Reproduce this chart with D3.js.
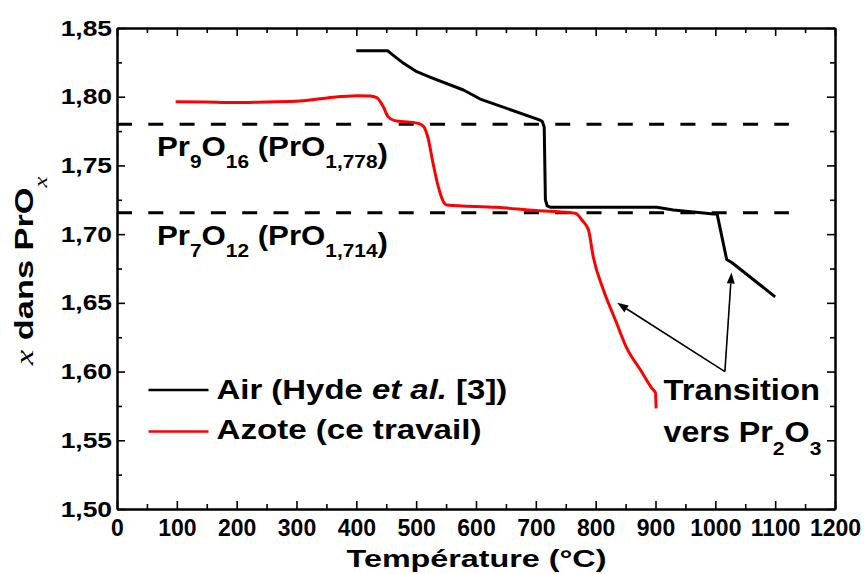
<!DOCTYPE html>
<html>
<head>
<meta charset="utf-8">
<script src="https://cdn.jsdelivr.net/npm/d3@7"></script>
<style>
html,body{margin:0;padding:0;background:#fff;}
svg{display:block;}
</style>
</head>
<body>
<svg id="chart" width="865" height="574"></svg>
<script>
// ---------- data ----------
const airTemp = [400, 452, 465, 479, 501, 523, 579, 607, 707, 711, 714, 716, 719, 725, 902, 930, 997, 1003, 1019, 1028, 1100];
const airX    = [1.8335, 1.8335, 1.8290, 1.8243, 1.8182, 1.8143, 1.8049, 1.7983, 1.7830, 1.7818, 1.7780, 1.7250, 1.7205, 1.7195, 1.7195, 1.7175, 1.7146, 1.7146, 1.6815, 1.6792, 1.6544];

const azoteTemp = [98, 150, 195, 250, 306, 340, 362, 402, 423, 434, 445, 453, 464, 490, 503, 512, 520, 528, 537, 545, 551, 635, 700, 757, 767, 777, 788, 796, 813, 833, 852, 875, 894, 900, 901];
const azoteX    = [1.7964, 1.7961, 1.7957, 1.7962, 1.7969, 1.7985, 1.7996, 1.8007, 1.8005, 1.7993, 1.7927, 1.7855, 1.7826, 1.7814, 1.7806, 1.7785, 1.7697, 1.7520, 1.7345, 1.7240, 1.7212, 1.7195, 1.7172, 1.7157, 1.7150, 1.7103, 1.7030, 1.6834, 1.6593, 1.6375, 1.6170, 1.6011, 1.5878, 1.5845, 1.5732];

const phaseLevels = [1.780, 1.7155];   // Pr9O16, Pr7O12 dashed lines (as drawn)
const phaseEnd = 1123;                 // dashed lines end temperature

const xMajorTicks = d3.range(0, 1201, 100);
const xMinorTicks = d3.range(50, 1200, 100);
const yMajorTicks = [1.50, 1.55, 1.60, 1.65, 1.70, 1.75, 1.80, 1.85];
const yMinorTicks = [1.525, 1.575, 1.625, 1.675, 1.725, 1.775, 1.825];

const seriesNames = ["Air", "Azote"];
// annotation arrows (data coords): apex -> tips
const arrowApex = [1016, 1.600];
const arrowTips = [[836, 1.650], [1027, 1.672]];

// ---------- layout ----------
const FONT = "'Liberation Sans', Arial, sans-serif";
const SERIF = "'Liberation Serif', 'Times New Roman', serif";
const X0 = 117, X1 = 835, Y0 = 28, Y1 = 509;
const svg = d3.select("#chart");
const x = d3.scaleLinear().domain([0, 1200]).range([X0, X1]);
const y = d3.scaleLinear().domain([1.50, 1.85]).range([Y1, Y0]);
const fmt = v => d3.format(".2f")(v).replace(".", ",");

function styleAxis(g) {
  g.selectAll("path.domain").attr("stroke", "#000").attr("stroke-width", 2);
  g.selectAll(".tick line").attr("stroke", "#000").attr("stroke-width", 1.6);
}

// minor ticks (all four sides)
svg.append("g").attr("transform", `translate(0,${Y1})`)
  .call(d3.axisBottom(x).tickValues(xMinorTicks).tickSizeInner(-5).tickSizeOuter(0).tickFormat(""))
  .call(styleAxis);
svg.append("g").attr("transform", `translate(0,${Y0})`)
  .call(d3.axisTop(x).tickValues(xMinorTicks).tickSizeInner(-5).tickSizeOuter(0).tickFormat(""))
  .call(styleAxis);
svg.append("g").attr("transform", `translate(${X0},0)`)
  .call(d3.axisLeft(y).tickValues(yMinorTicks).tickSizeInner(-5).tickSizeOuter(0).tickFormat(""))
  .call(styleAxis);
svg.append("g").attr("transform", `translate(${X1},0)`)
  .call(d3.axisRight(y).tickValues(yMinorTicks).tickSizeInner(-5).tickSizeOuter(0).tickFormat(""))
  .call(styleAxis);

// major ticks
const gxb = svg.append("g").attr("transform", `translate(0,${Y1})`)
  .call(d3.axisBottom(x).tickValues(xMajorTicks).tickSizeInner(-8).tickSizeOuter(0).tickPadding(11).tickFormat(d3.format("d")))
  .call(styleAxis);
gxb.selectAll("text").attr("font-family", FONT).attr("font-weight", "bold").attr("font-size", 23).attr("fill", "#000");

svg.append("g").attr("transform", `translate(0,${Y0})`)
  .call(d3.axisTop(x).tickValues(xMajorTicks).tickSizeInner(-8).tickSizeOuter(0).tickFormat(""))
  .call(styleAxis);

const gyl = svg.append("g").attr("transform", `translate(${X0},0)`)
  .call(d3.axisLeft(y).tickValues(yMajorTicks).tickSizeInner(-8).tickSizeOuter(0).tickPadding(5).tickFormat(fmt))
  .call(styleAxis);
const ySx = 1.2;
gyl.selectAll("text").attr("font-family", FONT).attr("font-weight", "bold").attr("font-size", 22).attr("fill", "#000")
  .attr("x", -5 / ySx).attr("transform", `scale(${ySx},1)`);

svg.append("g").attr("transform", `translate(${X1},0)`)
  .call(d3.axisRight(y).tickValues(yMajorTicks).tickSizeInner(-8).tickSizeOuter(0).tickFormat(""))
  .call(styleAxis);

// ---------- text helper (horizontally stretched like the reference) ----------
function scaledText(parent, o) {
  const t = parent.append("text")
    .attr("font-family", FONT).attr("font-weight", "bold").attr("font-size", o.size)
    .attr("text-anchor", o.anchor || "start").attr("fill", "#000");
  o.parts.forEach(p => {
    const ts = t.append("tspan").text(p.t);
    if (p.size) ts.attr("font-size", p.size);
    if (p.dy) ts.attr("dy", p.dy);
    if (p.italic) ts.attr("font-style", "italic");
    if (p.family) ts.attr("font-family", p.family).attr("font-weight", p.weight || "normal");
  });
  const w = t.node().getBBox().width;
  const sx = o.width ? o.width / w : 1;
  t.attr("transform", `translate(${o.x},${o.y}) rotate(${o.rotate || 0}) scale(${sx},1)`);
  return t;
}

// ---------- dashed phase lines ----------
svg.append("g").selectAll("line").data(phaseLevels).join("line")
  .attr("x1", x(0)).attr("x2", x(phaseEnd))
  .attr("y1", d => y(d)).attr("y2", d => y(d))
  .attr("stroke", "#000").attr("stroke-width", 3)
  .attr("stroke-dasharray", "15,16.3");

// ---------- curves ----------
const airData = airTemp.map((t, i) => [t, airX[i]]);
const azoteData = azoteTemp.map((t, i) => [t, azoteX[i]]);
const lineLin = d3.line().x(d => x(d[0])).y(d => y(d[1])).curve(d3.curveLinear);
const lineSmooth = d3.line().x(d => x(d[0])).y(d => y(d[1])).curve(d3.curveMonotoneX);

svg.append("path").datum(airData).attr("d", lineLin)
  .attr("fill", "none").attr("stroke", "#000").attr("stroke-width", 3).attr("stroke-linejoin", "round");
svg.append("path").datum(azoteData).attr("d", lineSmooth)
  .attr("fill", "none").attr("stroke", "#ff0000").attr("stroke-width", 3).attr("stroke-linejoin", "round");

// ---------- phase labels ----------
scaledText(svg, { x: 157, y: 156, size: 27, width: 231, parts: [
  { t: "Pr" }, { t: "9", size: 18, dy: 12 }, { t: "O", dy: -12 }, { t: "16", size: 18, dy: 12 },
  { t: " (PrO", dy: -12 }, { t: "1,778", size: 18, dy: 12 }, { t: ")", dy: -5 } ] });
scaledText(svg, { x: 157, y: 245, size: 27, width: 231, parts: [
  { t: "Pr" }, { t: "7", size: 18, dy: 12 }, { t: "O", dy: -12 }, { t: "12", size: 18, dy: 12 },
  { t: " (PrO", dy: -12 }, { t: "1,714", size: 18, dy: 12 }, { t: ")", dy: -5 } ] });

// ---------- legend ----------
const legend = svg.append("g");
const legendColors = ["#000", "#ff0000"];
const legendY = [390, 431.5];
legend.selectAll("line").data(seriesNames).join("line")
  .attr("x1", 148.5).attr("x2", 208.5)
  .attr("y1", (d, i) => legendY[i]).attr("y2", (d, i) => legendY[i])
  .attr("stroke", (d, i) => legendColors[i]).attr("stroke-width", 2.5);
scaledText(legend, { x: 216.5, y: 398.5, size: 28, width: 291, parts: [
  { t: "Air (Hyde " }, { t: "et al.", italic: true }, { t: " [3])" } ] });
scaledText(legend, { x: 216.5, y: 438.5, size: 28, width: 265, parts: [
  { t: "Azote (ce travail)" } ] });

// ---------- annotation ----------
const ann = svg.append("g");
function arrow(from, to) {
  const x1 = x(from[0]), y1 = y(from[1]), x2 = x(to[0]), y2 = y(to[1]);
  const a = Math.atan2(y2 - y1, x2 - x1);
  const L = 11, Wd = 4;
  const bx = x2 - L * Math.cos(a), by = y2 - L * Math.sin(a);
  ann.append("line").attr("x1", x1).attr("y1", y1).attr("x2", bx).attr("y2", by)
    .attr("stroke", "#000").attr("stroke-width", 1.6);
  ann.append("path")
    .attr("d", `M${x2},${y2} L${bx - Wd * Math.sin(a)},${by + Wd * Math.cos(a)} L${bx + Wd * Math.sin(a)},${by - Wd * Math.cos(a)} Z`)
    .attr("fill", "#000");
}
arrowTips.forEach(tip => arrow(arrowApex, tip));

scaledText(svg, { x: 663.5, y: 400, size: 29, width: 156.5, parts: [{ t: "Transition" }] });
scaledText(svg, { x: 663.5, y: 441.5, size: 29, width: 158, parts: [
  { t: "vers Pr" }, { t: "2", size: 19, dy: 13 }, { t: "O", dy: -13 }, { t: "3", size: 19, dy: 13 } ] });

// ---------- axis titles ----------
scaledText(svg, { x: 476.5, y: 566.5, size: 23, width: 260, anchor: "middle", parts: [{ t: "Température (°C)" }] });
scaledText(svg, { x: 33, y: 365, size: 25, width: 190, rotate: -90, parts: [
  { t: "x", family: SERIF, italic: true }, { t: " dans PrO" },
  { t: "x", family: SERIF, italic: true, size: 18, dy: 14 } ] });
</script>
</body>
</html>
